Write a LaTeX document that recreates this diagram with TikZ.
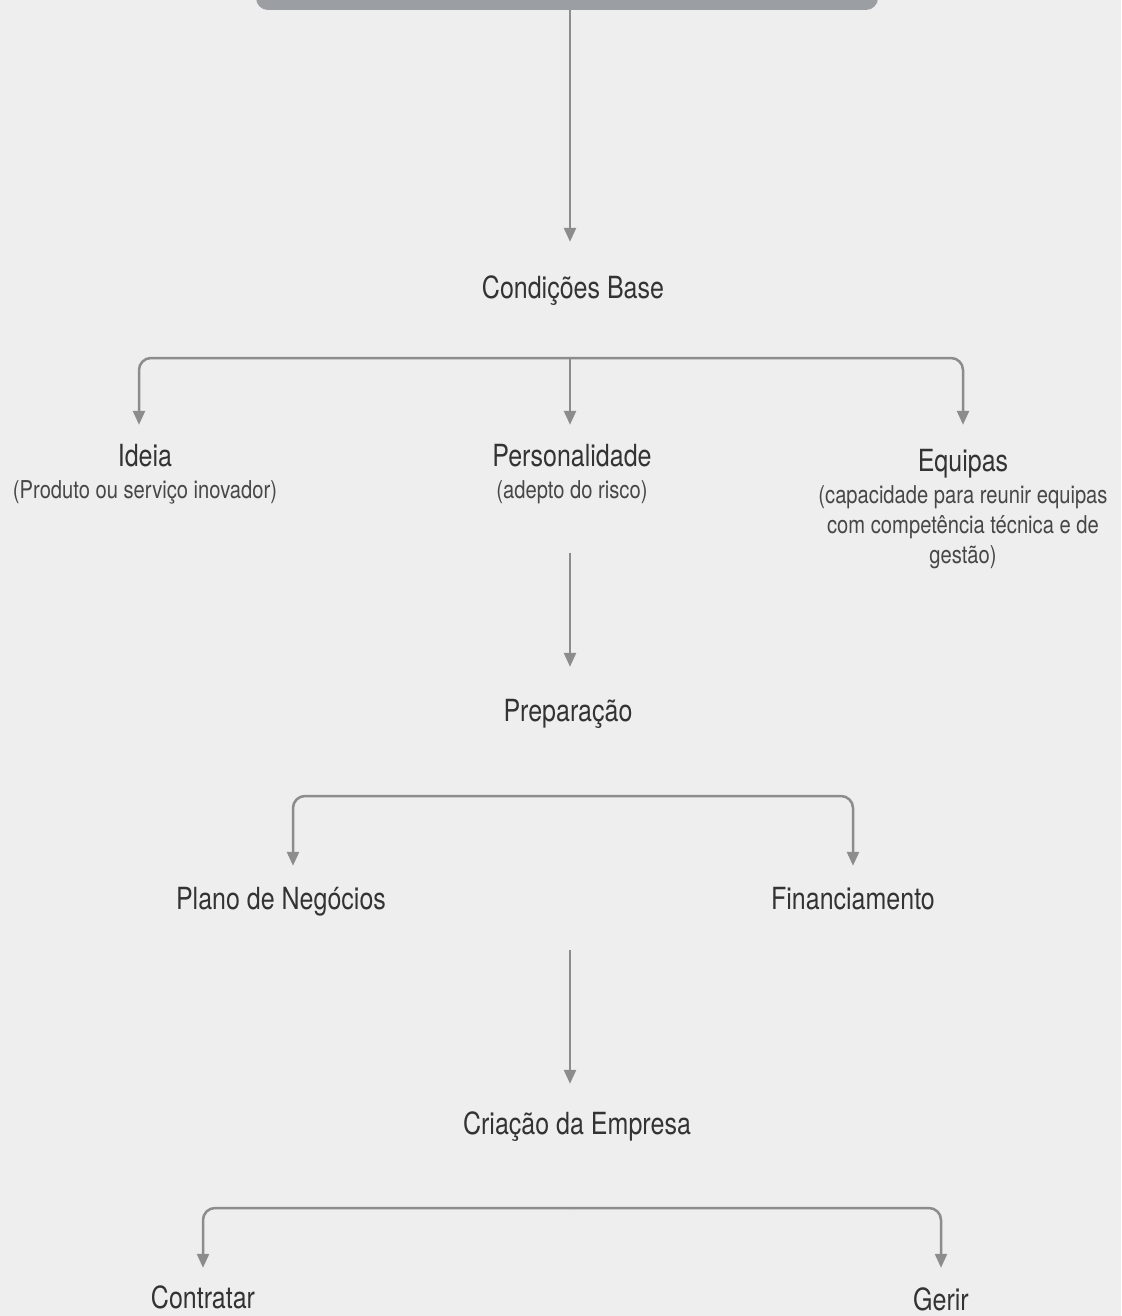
\documentclass[tikz,border=0pt]{standalone}
\usepackage{fontspec}
\setmainfont{TeX Gyre Heros}[FakeStretch=0.82]
\usetikzlibrary{arrows.meta}
\definecolor{fundo}{HTML}{EEEEEE}
\definecolor{linha}{HTML}{8C8C8C}
\definecolor{caixa}{HTML}{9B9EA2}
\definecolor{texto}{HTML}{333333}
\definecolor{texto2}{HTML}{474747}

\begin{document}
\begin{tikzpicture}[x=1pt,y=-1pt]
\tikzstyle{rot}=[anchor=base,inner sep=0pt,text=texto,font=\fontsize{30.5}{30}\selectfont,text height=22.5pt,text depth=7pt]
\tikzstyle{sub}=[anchor=base,inner sep=0pt,text=texto2,font=\fontsize{24.6}{30}\selectfont,align=center]
\tikzstyle{seta}=[draw=linha,line width=2.5pt,rounded corners=12pt,-{Triangle[width=12pt,length=14pt]}]
\path[use as bounding box,clip] (0,0) rectangle (1121,1316);
\fill[fundo] (0,0) rectangle (1121,1316);
\node[fill=caixa,rounded corners=12pt,minimum width=622pt,minimum height=60pt,inner sep=0pt] (titulo) at (567,-20) {};
\node[rot] (cond)     at (573,298)  {Condições Base};
\node[rot] (ideia)    at (145,466)  {Ideia};
\node[sub] (ideiaSub) at (145,498)  {(Produto ou serviço inovador)};
\node[rot] (pers)     at (572,466)  {Personalidade};
\node[sub] (persSub)  at (572,498)  {(adepto do risco)};
\node[rot] (equipas)  at (963,471)  {Equipas};
\node[sub,anchor=north] (equipasSub) at (963,485) {(capacidade para reunir equipas\\com competência técnica e de\\gestão)};
\node[rot] (prep)     at (568,721)  {Preparação};
\node[rot] (plano)    at (281,909)  {Plano de Negócios};
\node[rot] (financ)   at (853,909)  {Financiamento};
\node[rot] (criacao)  at (577,1134) {Criação da Empresa};
\node[rot] (contratar) at (203,1308) {Contratar};
\node[rot] (gerir)    at (941,1310) {Gerir};
\coordinate (j1) at (570,358);
\coordinate (j2) at (570,796);
\coordinate (j3) at (570,1208);
\coordinate (p3) at (570,950);
% ligacoes
\draw[seta,shorten >=33.5pt] (titulo.south -| j1) -- (j1 |- cond.north);
\draw[seta,shorten >=18.5pt] (j1) -| ([xshift=-6pt]ideia.north);
\draw[seta,shorten >=18.5pt] (j1) -- (j1 |- pers.north);
\draw[seta,shorten >=23.5pt] (j1) -| (equipas.north);
\draw[seta,shorten <=49pt,shorten >=31.5pt] (persSub.south -| j1) -- (j1 |- prep.north);
\draw[seta,shorten >=20.5pt] (j2) -| ([xshift=12pt]plano.north);
\draw[seta,shorten >=20.5pt] (j2) -| (financ.north);
\draw[seta,shorten >=27.5pt] (p3) -- (j1 |- criacao.north);
\draw[seta,shorten >=17.5pt] (j3) -| (contratar.north);
\draw[seta,shorten >=19.5pt] (j3) -| (gerir.north);
\end{tikzpicture}
\end{document}
